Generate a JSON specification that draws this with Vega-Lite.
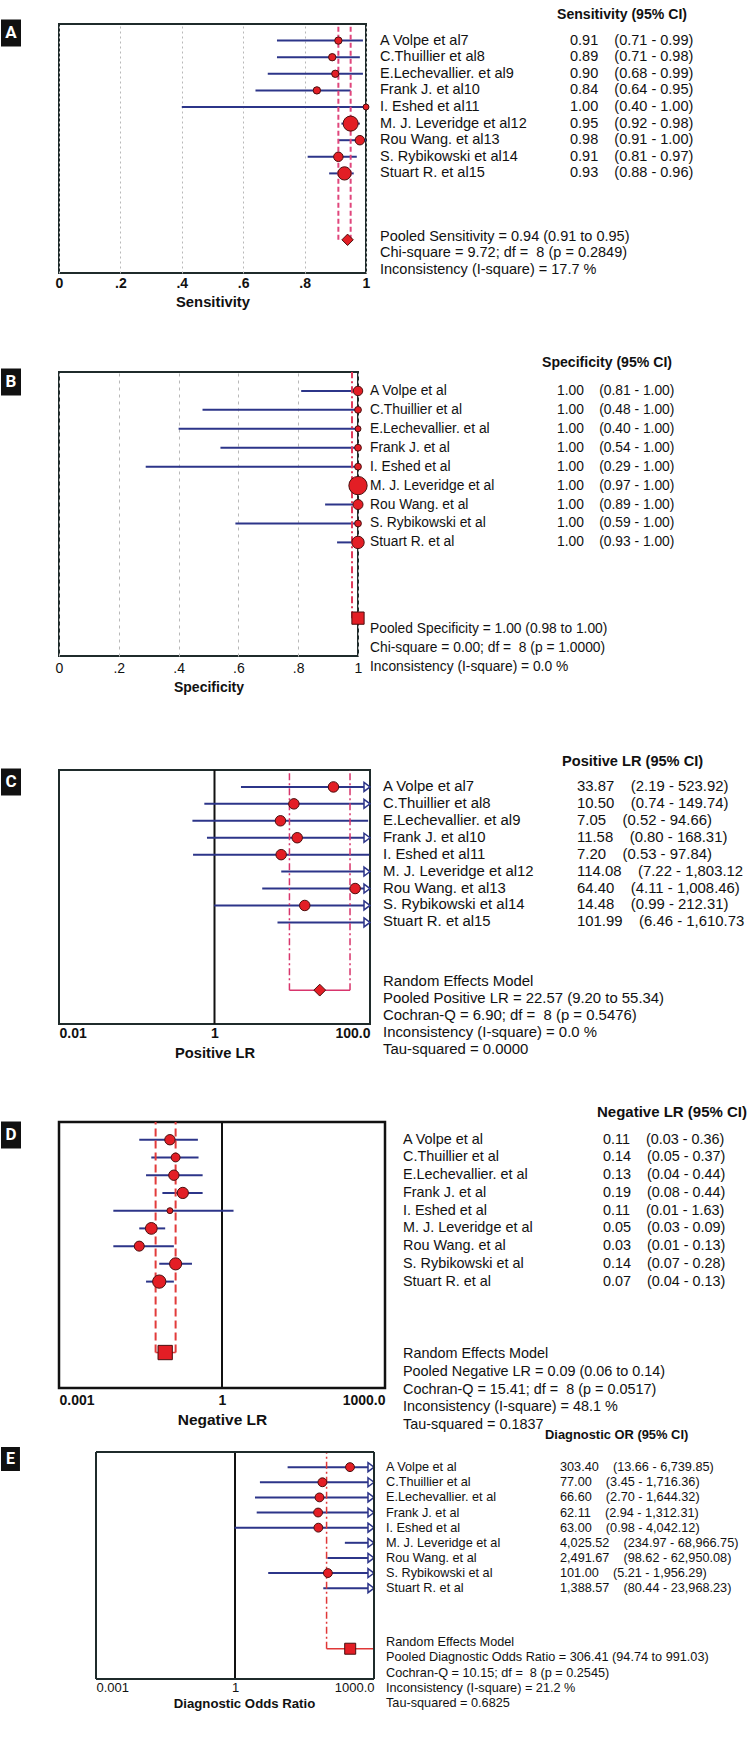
{
"$schema":"https://vega.github.io/schema/vega-lite/v6.json",
"background":"white",
"padding":{"left":1,"top":8,"right":0,"bottom":10},
"bounds":"flush",
"columns":4,
"align":"each",
"spacing":{"row":0,"column":0},
"config":{"view":{"stroke":null},"text":{"font":"Liberation Sans"}},
"datasets":{
"sens":[
{"kind":"header","row":0,"text":"Sensitivity (95% CI)"},
{"kind":"study","row":1,"name":"A Volpe et al7","est":0.91,"lo":0.71,"hi":0.99,"w":69,"stat":"0.91\u00a0\u00a0\u00a0\u00a0(0.71 - 0.99)"},
{"kind":"study","row":2,"name":"C.Thuillier et al8","est":0.89,"lo":0.71,"hi":0.98,"w":69,"stat":"0.89\u00a0\u00a0\u00a0\u00a0(0.71 - 0.98)"},
{"kind":"study","row":3,"name":"E.Lechevallier. et al9","est":0.90,"lo":0.68,"hi":0.99,"w":69,"stat":"0.90\u00a0\u00a0\u00a0\u00a0(0.68 - 0.99)"},
{"kind":"study","row":4,"name":"Frank J. et al10","est":0.84,"lo":0.64,"hi":0.95,"w":69,"stat":"0.84\u00a0\u00a0\u00a0\u00a0(0.64 - 0.95)"},
{"kind":"study","row":5,"name":"I. Eshed et al11","est":1.00,"lo":0.40,"hi":1.00,"w":45,"stat":"1.00\u00a0\u00a0\u00a0\u00a0(0.40 - 1.00)"},
{"kind":"study","row":6,"name":"M. J. Leveridge et al12","est":0.95,"lo":0.92,"hi":0.98,"w":289,"stat":"0.95\u00a0\u00a0\u00a0\u00a0(0.92 - 0.98)"},
{"kind":"study","row":7,"name":"Rou Wang. et al13","est":0.98,"lo":0.91,"hi":1.00,"w":114,"stat":"0.98\u00a0\u00a0\u00a0\u00a0(0.91 - 1.00)"},
{"kind":"study","row":8,"name":"S. Rybikowski et al14","est":0.91,"lo":0.81,"hi":0.97,"w":114,"stat":"0.91\u00a0\u00a0\u00a0\u00a0(0.81 - 0.97)"},
{"kind":"study","row":9,"name":"Stuart R. et al15","est":0.93,"lo":0.88,"hi":0.96,"w":225,"stat":"0.93\u00a0\u00a0\u00a0\u00a0(0.88 - 0.96)"},
{"kind":"pooled","row":13,"est":0.94,"lo":0.91,"hi":0.95},
{"kind":"note","row":13,"text":"Pooled Sensitivity = 0.94 (0.91 to 0.95)"},
{"kind":"note","row":14,"text":"Chi-square = 9.72; df = \u00a08 (p = 0.2849)"},
{"kind":"note","row":15,"text":"Inconsistency (I-square) = 17.7 %"}
],
"spec":[
{"kind":"header","row":0,"text":"Specificity (95% CI)"},
{"kind":"study","row":1,"name":"A Volpe et al","est":1.00,"lo":0.81,"hi":1.00,"w":114,"stat":"1.00\u00a0\u00a0\u00a0\u00a0(0.81 - 1.00)"},
{"kind":"study","row":2,"name":"C.Thuillier et al","est":1.00,"lo":0.48,"hi":1.00,"w":59,"stat":"1.00\u00a0\u00a0\u00a0\u00a0(0.48 - 1.00)"},
{"kind":"study","row":3,"name":"E.Lechevallier. et al","est":1.00,"lo":0.40,"hi":1.00,"w":45,"stat":"1.00\u00a0\u00a0\u00a0\u00a0(0.40 - 1.00)"},
{"kind":"study","row":4,"name":"Frank J. et al","est":1.00,"lo":0.54,"hi":1.00,"w":59,"stat":"1.00\u00a0\u00a0\u00a0\u00a0(0.54 - 1.00)"},
{"kind":"study","row":5,"name":"I. Eshed et al","est":1.00,"lo":0.29,"hi":1.00,"w":59,"stat":"1.00\u00a0\u00a0\u00a0\u00a0(0.29 - 1.00)"},
{"kind":"study","row":6,"name":"M. J. Leveridge et al","est":1.00,"lo":0.97,"hi":1.00,"w":428,"stat":"1.00\u00a0\u00a0\u00a0\u00a0(0.97 - 1.00)"},
{"kind":"study","row":7,"name":"Rou Wang. et al","est":1.00,"lo":0.89,"hi":1.00,"w":128,"stat":"1.00\u00a0\u00a0\u00a0\u00a0(0.89 - 1.00)"},
{"kind":"study","row":8,"name":"S. Rybikowski et al","est":1.00,"lo":0.59,"hi":1.00,"w":59,"stat":"1.00\u00a0\u00a0\u00a0\u00a0(0.59 - 1.00)"},
{"kind":"study","row":9,"name":"Stuart R. et al","est":1.00,"lo":0.93,"hi":1.00,"w":196,"stat":"1.00\u00a0\u00a0\u00a0\u00a0(0.93 - 1.00)"},
{"kind":"pooled","row":13,"est":1.00,"lo":0.98,"hi":1.00},
{"kind":"note","row":14,"text":"Pooled Specificity = 1.00 (0.98 to 1.00)"},
{"kind":"note","row":15,"text":"Chi-square = 0.00; df = \u00a08 (p = 1.0000)"},
{"kind":"note","row":16,"text":"Inconsistency (I-square) = 0.0 %"}
],
"plr":[
{"kind":"header","row":0,"text":"Positive LR (95% CI)"},
{"kind":"ref","ref":1},
{"kind":"study","row":1,"name":"A Volpe et al7","est":33.87,"lo":2.19,"hi":523.92,"w":140,"stat":"33.87\u00a0\u00a0\u00a0\u00a0(2.19 - 523.92)"},
{"kind":"study","row":2,"name":"C.Thuillier et al8","est":10.50,"lo":0.74,"hi":149.74,"w":140,"stat":"10.50\u00a0\u00a0\u00a0\u00a0(0.74 - 149.74)"},
{"kind":"study","row":3,"name":"E.Lechevallier. et al9","est":7.05,"lo":0.52,"hi":94.66,"w":140,"stat":"7.05\u00a0\u00a0\u00a0\u00a0(0.52 - 94.66)"},
{"kind":"study","row":4,"name":"Frank J. et al10","est":11.58,"lo":0.80,"hi":168.31,"w":140,"stat":"11.58\u00a0\u00a0\u00a0\u00a0(0.80 - 168.31)"},
{"kind":"study","row":5,"name":"I. Eshed et al11","est":7.20,"lo":0.53,"hi":97.84,"w":140,"stat":"7.20\u00a0\u00a0\u00a0\u00a0(0.53 - 97.84)"},
{"kind":"study","row":6,"name":"M. J. Leveridge et al12","est":114.08,"lo":7.22,"hi":1803.12,"w":140,"stat":"114.08\u00a0\u00a0\u00a0\u00a0(7.22 - 1,803.12"},
{"kind":"study","row":7,"name":"Rou Wang. et al13","est":64.40,"lo":4.11,"hi":1008.46,"w":140,"stat":"64.40\u00a0\u00a0\u00a0\u00a0(4.11 - 1,008.46)"},
{"kind":"study","row":8,"name":"S. Rybikowski et al14","est":14.48,"lo":0.99,"hi":212.31,"w":140,"stat":"14.48\u00a0\u00a0\u00a0\u00a0(0.99 - 212.31)"},
{"kind":"study","row":9,"name":"Stuart R. et al15","est":101.99,"lo":6.46,"hi":1610.73,"w":140,"stat":"101.99\u00a0\u00a0\u00a0\u00a0(6.46 - 1,610.73"},
{"kind":"pooled","row":13,"est":22.57,"lo":9.20,"hi":55.34},
{"kind":"note","row":13,"text":"Random Effects Model"},
{"kind":"note","row":14,"text":"Pooled Positive LR = 22.57 (9.20 to 55.34)"},
{"kind":"note","row":15,"text":"Cochran-Q = 6.90; df = \u00a08 (p = 0.5476)"},
{"kind":"note","row":16,"text":"Inconsistency (I-square) = 0.0 %"},
{"kind":"note","row":17,"text":"Tau-squared = 0.0000"}
],
"nlr":[
{"kind":"header","row":0,"text":"Negative LR (95% CI)"},
{"kind":"ref","ref":1},
{"kind":"study","row":1,"name":"A Volpe et al","est":0.11,"lo":0.03,"hi":0.36,"w":137,"stat":"0.11\u00a0\u00a0\u00a0\u00a0(0.03 - 0.36)"},
{"kind":"study","row":2,"name":"C.Thuillier et al","est":0.14,"lo":0.05,"hi":0.37,"w":100,"stat":"0.14\u00a0\u00a0\u00a0\u00a0(0.05 - 0.37)"},
{"kind":"study","row":3,"name":"E.Lechevallier. et al","est":0.13,"lo":0.04,"hi":0.44,"w":137,"stat":"0.13\u00a0\u00a0\u00a0\u00a0(0.04 - 0.44)"},
{"kind":"study","row":4,"name":"Frank J. et al","est":0.19,"lo":0.08,"hi":0.44,"w":161,"stat":"0.19\u00a0\u00a0\u00a0\u00a0(0.08 - 0.44)"},
{"kind":"study","row":5,"name":"I. Eshed et al","est":0.11,"lo":0.01,"hi":1.63,"w":45,"stat":"0.11\u00a0\u00a0\u00a0\u00a0(0.01 - 1.63)"},
{"kind":"study","row":6,"name":"M. J. Leveridge et al","est":0.05,"lo":0.03,"hi":0.09,"w":177,"stat":"0.05\u00a0\u00a0\u00a0\u00a0(0.03 - 0.09)"},
{"kind":"study","row":7,"name":"Rou Wang. et al","est":0.03,"lo":0.01,"hi":0.13,"w":128,"stat":"0.03\u00a0\u00a0\u00a0\u00a0(0.01 - 0.13)"},
{"kind":"study","row":8,"name":"S. Rybikowski et al","est":0.14,"lo":0.07,"hi":0.28,"w":188,"stat":"0.14\u00a0\u00a0\u00a0\u00a0(0.07 - 0.28)"},
{"kind":"study","row":9,"name":"Stuart R. et al","est":0.07,"lo":0.04,"hi":0.13,"w":225,"stat":"0.07\u00a0\u00a0\u00a0\u00a0(0.04 - 0.13)"},
{"kind":"pooled","row":13,"est":0.09,"lo":0.06,"hi":0.14},
{"kind":"note","row":13,"text":"Random Effects Model"},
{"kind":"note","row":14,"text":"Pooled Negative LR = 0.09 (0.06 to 0.14)"},
{"kind":"note","row":15,"text":"Cochran-Q = 15.41; df = \u00a08 (p = 0.0517)"},
{"kind":"note","row":16,"text":"Inconsistency (I-square) = 48.1 %"},
{"kind":"note","row":17,"text":"Tau-squared = 0.1837"}
],
"dor":[
{"kind":"header","row":0,"text":"Diagnostic OR (95% CI)"},
{"kind":"ref","ref":1},
{"kind":"edge","ref":0.001},
{"kind":"edge","ref":1000},
{"kind":"frame","row":0,"lo":0.001,"hi":1000},
{"kind":"frame","row":15,"lo":0.001,"hi":1000},
{"kind":"study","row":1,"name":"A Volpe et al","est":303.40,"lo":13.66,"hi":6739.85,"w":100,"stat":"303.40\u00a0\u00a0\u00a0\u00a0(13.66 - 6,739.85)"},
{"kind":"study","row":2,"name":"C.Thuillier et al","est":77.00,"lo":3.45,"hi":1716.36,"w":100,"stat":"77.00\u00a0\u00a0\u00a0\u00a0(3.45 - 1,716.36)"},
{"kind":"study","row":3,"name":"E.Lechevallier. et al","est":66.60,"lo":2.70,"hi":1644.32,"w":100,"stat":"66.60\u00a0\u00a0\u00a0\u00a0(2.70 - 1,644.32)"},
{"kind":"study","row":4,"name":"Frank J. et al","est":62.11,"lo":2.94,"hi":1312.31,"w":100,"stat":"62.11\u00a0\u00a0\u00a0\u00a0(2.94 - 1,312.31)"},
{"kind":"study","row":5,"name":"I. Eshed et al","est":63.00,"lo":0.98,"hi":4042.12,"w":100,"stat":"63.00\u00a0\u00a0\u00a0\u00a0(0.98 - 4,042.12)"},
{"kind":"study","row":6,"name":"M. J. Leveridge et al","est":4025.52,"lo":234.97,"hi":68966.75,"w":100,"stat":"4,025.52\u00a0\u00a0\u00a0\u00a0(234.97 - 68,966.75)"},
{"kind":"study","row":7,"name":"Rou Wang. et al","est":2491.67,"lo":98.62,"hi":62950.08,"w":100,"stat":"2,491.67\u00a0\u00a0\u00a0\u00a0(98.62 - 62,950.08)"},
{"kind":"study","row":8,"name":"S. Rybikowski et al","est":101.00,"lo":5.21,"hi":1956.29,"w":100,"stat":"101.00\u00a0\u00a0\u00a0\u00a0(5.21 - 1,956.29)"},
{"kind":"study","row":9,"name":"Stuart R. et al","est":1388.57,"lo":80.44,"hi":23968.23,"w":100,"stat":"1,388.57\u00a0\u00a0\u00a0\u00a0(80.44 - 23,968.23)"},
{"kind":"pooled","row":13,"est":306.41,"lo":94.74,"hi":991.03},
{"kind":"note","row":13,"text":"Random Effects Model"},
{"kind":"note","row":14,"text":"Pooled Diagnostic Odds Ratio = 306.41 (94.74 to 991.03)"},
{"kind":"note","row":15,"text":"Cochran-Q = 10.15; df = \u00a08 (p = 0.2545)"},
{"kind":"note","row":16,"text":"Inconsistency (I-square) = 21.2 %"},
{"kind":"note","row":17,"text":"Tau-squared = 0.6825"}
]
},
"concat":[
 {"width":58,"height":18,"data":{"values":[{"letter":"A"}]},"layer":[
  {"mark":{"type":"point","shape":"M0,-1H1.48V1H0Z","filled":true,"color":"#111111","size":729,"opacity":1,"strokeWidth":0},"encoding":{"x":{"datum":0,"type":"quantitative","scale":{"domain":[0,1]},"axis":null}}},
  {"mark":{"type":"text","font":"Roboto","fontWeight":"bold","fontSize":17,"color":"#ffffff","align":"center","baseline":"middle","dx":10},"encoding":{"x":{"datum":0,"type":"quantitative","scale":{"domain":[0,1]},"axis":null},"text":{"field":"letter"}}}]},
  {"width":307,"height":249,"view":{"stroke":"#1f2b2b","strokeWidth":2},"data":{"name":"sens"},"layer":[
   {"transform":[{"filter":"datum.kind == 'study'"}],"mark":{"type":"rule","color":"#2c3589","strokeWidth":2},
    "encoding":{"x":{"field":"lo","type":"quantitative","scale":{"type":"linear","domain":[0,1],"nice":false,"zero":false},
      "axis":{"title":"Sensitivity","values":[0,0.1,0.2,0.3,0.4,0.5,0.6,0.7,0.8,0.9,1],"labelExpr":"datum.value == 0 ? '0' : datum.value == 1 ? '1' : (round(datum.value * 10) % 2 == 0 ? replace(format(datum.value, '.1f'), '0.', '.') : '')","labelFlush":false,"labelOverlap":false,"grid":true,"gridDash":[2,3],"gridColor":"#b8b8b8","domain":false,"ticks":false,"labelFont":"Liberation Sans","labelFontSize":14,"labelFontWeight":"bold","labelColor":"#111111","labelPadding":3,"titleFont":"Liberation Sans","titleFontSize":14.8,"titleFontWeight":"bold","titleColor":"#111111","titlePadding":4}},
     "x2":{"field":"hi"},
     "y":{"field":"row","type":"quantitative","scale":{"domain":[0,15],"reverse":true,"nice":false,"zero":false},"axis":null}}},
   {"transform":[{"filter":"datum.kind == 'pooled'"}],"mark":{"type":"rule","color":"#e0467c","strokeWidth":2,"strokeDash":[5,3]},
    "encoding":{"x":{"field":"lo","type":"quantitative","scale":{"type":"linear","domain":[0,1],"nice":false,"zero":false}},"y":{"field":"row","type":"quantitative","scale":{"domain":[0,15],"reverse":true,"nice":false,"zero":false},"axis":null},"y2":{"datum":0}}},
   {"transform":[{"filter":"datum.kind == 'pooled'"}],"mark":{"type":"rule","color":"#e0467c","strokeWidth":2,"strokeDash":[5,3]},
    "encoding":{"x":{"field":"hi","type":"quantitative","scale":{"type":"linear","domain":[0,1],"nice":false,"zero":false}},"y":{"field":"row","type":"quantitative","scale":{"domain":[0,15],"reverse":true,"nice":false,"zero":false},"axis":null},"y2":{"datum":0}}},
   {"transform":[{"filter":"datum.kind == 'study'"}],"mark":{"type":"point","shape":"circle","filled":true,"color":"#e31e25","stroke":"#4a0f0f","strokeWidth":1,"opacity":1},
    "encoding":{"x":{"field":"est","type":"quantitative","scale":{"type":"linear","domain":[0,1],"nice":false,"zero":false}},"y":{"field":"row","type":"quantitative","scale":{"domain":[0,15],"reverse":true,"nice":false,"zero":false},"axis":null},
     "size":{"field":"w","type":"quantitative","scale":{"type":"linear","domain":[0,100],"range":[0,78.5]},"legend":null}}},
   {"transform":[{"filter":"datum.kind == 'pooled'"}],"mark":{"type":"point","shape":"diamond","filled":true,"color":"#e31e25","stroke":"#4a0f0f","strokeWidth":1,"opacity":1,"size":130},
    "encoding":{"x":{"field":"est","type":"quantitative","scale":{"type":"linear","domain":[0,1],"nice":false,"zero":false}},"y":{"field":"row","type":"quantitative","scale":{"domain":[0,15],"reverse":true,"nice":false,"zero":false},"axis":null}}}
  ]},
  {"width":172,"height":348,"data":{"name":"sens"},"layer":[
   {"transform":[{"filter":"datum.kind == 'study'"}],"mark":{"type":"text","align":"left","baseline":"middle","fontSize":14.5,"color":"#111111","dx":-5},
    "encoding":{"x":{"datum":0,"type":"quantitative","scale":{"domain":[0,1]},"axis":null},"y":{"field":"row","type":"quantitative","scale":{"domain":[0,20.964],"reverse":true,"nice":false,"zero":false},"axis":null},"text":{"field":"name"}}},
   {"transform":[{"filter":"datum.kind == 'note'"}],"mark":{"type":"text","align":"left","baseline":"middle","fontSize":14.5,"color":"#111111","dx":-5,"dy":-3},
    "encoding":{"x":{"datum":0,"type":"quantitative","scale":{"domain":[0,1]},"axis":null},"y":{"field":"row","type":"quantitative","scale":{"domain":[0,20.964],"reverse":true,"nice":false,"zero":false},"axis":null},"text":{"field":"text"}}}
  ]},
  {"width":190,"height":249,"data":{"name":"sens"},"layer":[
   {"transform":[{"filter":"datum.kind == 'study'"}],"mark":{"type":"text","align":"left","baseline":"middle","fontSize":14.5,"color":"#111111","dx":13},
    "encoding":{"x":{"datum":0,"type":"quantitative","scale":{"domain":[0,1]},"axis":null},"y":{"field":"row","type":"quantitative","scale":{"domain":[0,15],"reverse":true,"nice":false,"zero":false},"axis":null},"text":{"field":"stat"}}},
   {"transform":[{"filter":"datum.kind == 'header'"}],"mark":{"type":"text","align":"left","baseline":"middle","fontSize":14.1,"fontWeight":"bold","color":"#111111","dx":0,"dy":-9},
    "encoding":{"x":{"datum":0,"type":"quantitative","scale":{"domain":[0,1]},"axis":null},"y":{"field":"row","type":"quantitative","scale":{"domain":[0,15],"reverse":true,"nice":false,"zero":false},"axis":null},"text":{"field":"text"}}}
  ]},

 {"width":58,"height":20,"data":{"values":[{"letter":"B"}]},"layer":[
  {"mark":{"type":"point","shape":"M0,-1H1.48V1H0Z","filled":true,"color":"#111111","size":729,"opacity":1,"strokeWidth":0},"encoding":{"x":{"datum":0,"type":"quantitative","scale":{"domain":[0,1]},"axis":null}}},
  {"mark":{"type":"text","font":"Roboto","fontWeight":"bold","fontSize":17,"color":"#ffffff","align":"center","baseline":"middle","dx":10},"encoding":{"x":{"datum":0,"type":"quantitative","scale":{"domain":[0,1]},"axis":null},"text":{"field":"letter"}}}]},
  {"width":299,"height":284,"view":{"stroke":"#1f2b2b","strokeWidth":2},"data":{"name":"spec"},"layer":[
   {"transform":[{"filter":"datum.kind == 'study'"}],"mark":{"type":"rule","color":"#2c3589","strokeWidth":2},
    "encoding":{"x":{"field":"lo","type":"quantitative","scale":{"type":"linear","domain":[0,1],"nice":false,"zero":false},
      "axis":{"title":"Specificity","values":[0,0.1,0.2,0.3,0.4,0.5,0.6,0.7,0.8,0.9,1],"labelExpr":"datum.value == 0 ? '0' : datum.value == 1 ? '1' : (round(datum.value * 10) % 2 == 0 ? replace(format(datum.value, '.1f'), '0.', '.') : '')","labelFlush":false,"labelOverlap":false,"grid":true,"gridDash":[3,4],"gridColor":"#b8b8b8","domain":false,"ticks":false,"labelFont":"Liberation Sans","labelFontSize":14,"labelColor":"#111111","labelPadding":5,"titleFont":"Liberation Sans","titleFontSize":14,"titleFontWeight":"bold","titleColor":"#111111","titlePadding":5}},
     "x2":{"field":"hi"},
     "y":{"field":"row","type":"quantitative","scale":{"domain":[0,15],"reverse":true,"nice":false,"zero":false},"axis":null}}},
   {"transform":[{"filter":"datum.kind == 'pooled'"}],"mark":{"type":"rule","color":"#e03a5a","strokeWidth":2,"strokeDash":[7,3,2,3]},
    "encoding":{"x":{"field":"lo","type":"quantitative","scale":{"type":"linear","domain":[0,1],"nice":false,"zero":false}},"y":{"field":"row","type":"quantitative","scale":{"domain":[0,15],"reverse":true,"nice":false,"zero":false},"axis":null},"y2":{"datum":0}}},
   {"transform":[{"filter":"datum.kind == 'study'"}],"mark":{"type":"point","shape":"circle","filled":true,"color":"#e31e25","stroke":"#4a0f0f","strokeWidth":1,"opacity":1},
    "encoding":{"x":{"field":"est","type":"quantitative","scale":{"type":"linear","domain":[0,1],"nice":false,"zero":false}},"y":{"field":"row","type":"quantitative","scale":{"domain":[0,15],"reverse":true,"nice":false,"zero":false},"axis":null},
     "size":{"field":"w","type":"quantitative","scale":{"type":"linear","domain":[0,100],"range":[0,78.5]},"legend":null}}},
   {"transform":[{"filter":"datum.kind == 'pooled'"}],"mark":{"type":"point","shape":"square","filled":true,"color":"#e31e25","stroke":"#4a0f0f","strokeWidth":1,"opacity":1,"size":150},
    "encoding":{"x":{"field":"est","type":"quantitative","scale":{"type":"linear","domain":[0,1],"nice":false,"zero":false}},"y":{"field":"row","type":"quantitative","scale":{"domain":[0,15],"reverse":true,"nice":false,"zero":false},"axis":null}}}
  ]},
  {"width":172,"height":398,"data":{"name":"spec"},"layer":[
   {"transform":[{"filter":"datum.kind == 'study'"}],"mark":{"type":"text","align":"left","baseline":"middle","fontSize":13.8,"color":"#111111","dx":-15},
    "encoding":{"x":{"datum":0,"type":"quantitative","scale":{"domain":[0,1]},"axis":null},"y":{"field":"row","type":"quantitative","scale":{"domain":[0,21.021],"reverse":true,"nice":false,"zero":false},"axis":null},"text":{"field":"name"}}},
   {"transform":[{"filter":"datum.kind == 'note'"}],"mark":{"type":"text","align":"left","baseline":"middle","fontSize":13.8,"color":"#111111","dx":-15,"dy":-8},
    "encoding":{"x":{"datum":0,"type":"quantitative","scale":{"domain":[0,1]},"axis":null},"y":{"field":"row","type":"quantitative","scale":{"domain":[0,21.021],"reverse":true,"nice":false,"zero":false},"axis":null},"text":{"field":"text"}}}
  ]},
  {"width":190,"height":284,"data":{"name":"spec"},"layer":[
   {"transform":[{"filter":"datum.kind == 'study'"}],"mark":{"type":"text","align":"left","baseline":"middle","fontSize":13.8,"color":"#111111","dx":0},
    "encoding":{"x":{"datum":0,"type":"quantitative","scale":{"domain":[0,1]},"axis":null},"y":{"field":"row","type":"quantitative","scale":{"domain":[0,15],"reverse":true,"nice":false,"zero":false},"axis":null},"text":{"field":"stat"}}},
   {"transform":[{"filter":"datum.kind == 'header'"}],"mark":{"type":"text","align":"left","baseline":"middle","fontSize":14.1,"fontWeight":"bold","color":"#111111","dx":-15,"dy":-9},
    "encoding":{"x":{"datum":0,"type":"quantitative","scale":{"domain":[0,1]},"axis":null},"y":{"field":"row","type":"quantitative","scale":{"domain":[0,15],"reverse":true,"nice":false,"zero":false},"axis":null},"text":{"field":"text"}}}
  ]},

 {"width":58,"height":24,"data":{"values":[{"letter":"C"}]},"layer":[
  {"mark":{"type":"point","shape":"M0,-1H1.48V1H0Z","filled":true,"color":"#111111","size":729,"opacity":1,"strokeWidth":0},"encoding":{"x":{"datum":0,"type":"quantitative","scale":{"domain":[0,1]},"axis":null}}},
  {"mark":{"type":"text","font":"Roboto","fontWeight":"bold","fontSize":17,"color":"#ffffff","align":"center","baseline":"middle","dx":10},"encoding":{"x":{"datum":0,"type":"quantitative","scale":{"domain":[0,1]},"axis":null},"text":{"field":"letter"}}}]},
  {"width":311,"height":254,"view":{"stroke":"#1f2b2b","strokeWidth":2},"data":{"name":"plr"},"layer":[
   {"transform":[{"filter":"datum.kind == 'ref'"}],"mark":{"type":"rule","color":"#111111","strokeWidth":2},
    "encoding":{"x":{"field":"ref","type":"quantitative","scale":{"type":"log","domain":[0.01,100],"nice":false,"clamp":true},
      "axis":{"title":"Positive LR","values":[0.01,1,100],"labelExpr":"datum.value >= 100 ? format(datum.value, '.1f') : datum.value < 1 ? format(datum.value, '~g') : '1'","labelFlush":true,"labelOverlap":false,"grid":false,"domain":false,"ticks":false,"labelFont":"Liberation Sans","labelFontSize":14,"labelFontWeight":"bold","labelColor":"#111111","labelPadding":2,"titleFont":"Liberation Sans","titleFontSize":14.7,"titleFontWeight":"bold","titleColor":"#111111","titlePadding":5}}}},
   {"transform":[{"filter":"datum.kind == 'study'"}],"mark":{"type":"rule","color":"#2c3589","strokeWidth":2},
    "encoding":{"x":{"field":"lo","type":"quantitative","scale":{"type":"log","domain":[0.01,100],"nice":false,"clamp":true}},"x2":{"field":"hi"},
     "y":{"field":"row","type":"quantitative","scale":{"domain":[0,15],"reverse":true,"nice":false,"zero":false},"axis":null}}},
   {"transform":[{"filter":"datum.kind == 'pooled'"}],"mark":{"type":"rule","color":"#d8356c","strokeWidth":1.5,"strokeDash":[7,3,2,3]},
    "encoding":{"x":{"field":"lo","type":"quantitative","scale":{"type":"log","domain":[0.01,100],"nice":false,"clamp":true}},"y":{"field":"row","type":"quantitative","scale":{"domain":[0,15],"reverse":true,"nice":false,"zero":false},"axis":null},"y2":{"datum":0}}},
   {"transform":[{"filter":"datum.kind == 'pooled'"}],"mark":{"type":"rule","color":"#d8356c","strokeWidth":1.5,"strokeDash":[7,3,2,3]},
    "encoding":{"x":{"field":"hi","type":"quantitative","scale":{"type":"log","domain":[0.01,100],"nice":false,"clamp":true}},"y":{"field":"row","type":"quantitative","scale":{"domain":[0,15],"reverse":true,"nice":false,"zero":false},"axis":null},"y2":{"datum":0}}},
   {"transform":[{"filter":"datum.kind == 'pooled'"}],"mark":{"type":"rule","color":"#d8356c","strokeWidth":1.5},
    "encoding":{"x":{"field":"lo","type":"quantitative","scale":{"type":"log","domain":[0.01,100],"nice":false,"clamp":true}},"x2":{"field":"hi"},"y":{"field":"row","type":"quantitative","scale":{"domain":[0,15],"reverse":true,"nice":false,"zero":false},"axis":null}}},
   {"transform":[{"filter":"datum.kind == 'study' && datum.hi > 100"}],"mark":{"type":"point","shape":"M-1.2,-0.9L0,0L-1.2,0.9Z","filled":false,"fill":"#ffffff","stroke":"#2c3589","strokeWidth":1.5,"opacity":1,"size":100},
    "encoding":{"x":{"field":"hi","type":"quantitative","scale":{"type":"log","domain":[0.01,100],"nice":false,"clamp":true}},"y":{"field":"row","type":"quantitative","scale":{"domain":[0,15],"reverse":true,"nice":false,"zero":false},"axis":null}}},
   {"transform":[{"filter":"datum.kind == 'study' && datum.est <= 100"}],"mark":{"type":"point","shape":"circle","filled":true,"color":"#e31e25","stroke":"#4a0f0f","strokeWidth":1,"opacity":1},
    "encoding":{"x":{"field":"est","type":"quantitative","scale":{"type":"log","domain":[0.01,100],"nice":false,"clamp":true}},"y":{"field":"row","type":"quantitative","scale":{"domain":[0,15],"reverse":true,"nice":false,"zero":false},"axis":null},
     "size":{"field":"w","type":"quantitative","scale":{"type":"linear","domain":[0,100],"range":[0,78.5]},"legend":null}}},
   {"transform":[{"filter":"datum.kind == 'pooled'"}],"mark":{"type":"point","shape":"diamond","filled":true,"color":"#e31e25","stroke":"#4a0f0f","strokeWidth":1,"opacity":1,"size":140},
    "encoding":{"x":{"field":"est","type":"quantitative","scale":{"type":"log","domain":[0.01,100],"nice":false,"clamp":true}},"y":{"field":"row","type":"quantitative","scale":{"domain":[0,15],"reverse":true,"nice":false,"zero":false},"axis":null}}}
  ]},
  {"width":172,"height":352,"data":{"name":"plr"},"layer":[
   {"transform":[{"filter":"datum.kind == 'study'"}],"mark":{"type":"text","align":"left","baseline":"middle","fontSize":14.9,"color":"#111111","dx":-2},
    "encoding":{"x":{"datum":0,"type":"quantitative","scale":{"domain":[0,1]},"axis":null},"y":{"field":"row","type":"quantitative","scale":{"domain":[0,20.787],"reverse":true,"nice":false,"zero":false},"axis":null},"text":{"field":"name"}}},
   {"transform":[{"filter":"datum.kind == 'note'"}],"mark":{"type":"text","align":"left","baseline":"middle","fontSize":14.9,"color":"#111111","dx":-2,"dy":-8},
    "encoding":{"x":{"datum":0,"type":"quantitative","scale":{"domain":[0,1]},"axis":null},"y":{"field":"row","type":"quantitative","scale":{"domain":[0,20.787],"reverse":true,"nice":false,"zero":false},"axis":null},"text":{"field":"text"}}}
  ]},
  {"width":190,"height":254,"data":{"name":"plr"},"layer":[
   {"transform":[{"filter":"datum.kind == 'study'"}],"mark":{"type":"text","align":"left","baseline":"middle","fontSize":14.9,"color":"#111111","dx":20},
    "encoding":{"x":{"datum":0,"type":"quantitative","scale":{"domain":[0,1]},"axis":null},"y":{"field":"row","type":"quantitative","scale":{"domain":[0,15],"reverse":true,"nice":false,"zero":false},"axis":null},"text":{"field":"stat"}}},
   {"transform":[{"filter":"datum.kind == 'header'"}],"mark":{"type":"text","align":"left","baseline":"middle","fontSize":14.6,"fontWeight":"bold","color":"#111111","dx":5,"dy":-8},
    "encoding":{"x":{"datum":0,"type":"quantitative","scale":{"domain":[0,1]},"axis":null},"y":{"field":"row","type":"quantitative","scale":{"domain":[0,15],"reverse":true,"nice":false,"zero":false},"axis":null},"text":{"field":"text"}}}
  ]},

 {"width":58,"height":26,"data":{"values":[{"letter":"D"}]},"layer":[
  {"mark":{"type":"point","shape":"M0,-1H1.48V1H0Z","filled":true,"color":"#111111","size":729,"opacity":1,"strokeWidth":0},"encoding":{"x":{"datum":0,"type":"quantitative","scale":{"domain":[0,1]},"axis":null}}},
  {"mark":{"type":"text","font":"Roboto","fontWeight":"bold","fontSize":17,"color":"#ffffff","align":"center","baseline":"middle","dx":10},"encoding":{"x":{"datum":0,"type":"quantitative","scale":{"domain":[0,1]},"axis":null},"text":{"field":"letter"}}}]},
  {"width":326,"height":266,"view":{"stroke":"#111111","strokeWidth":2.5},"data":{"name":"nlr"},"layer":[
   {"transform":[{"filter":"datum.kind == 'ref'"}],"mark":{"type":"rule","color":"#111111","strokeWidth":2},
    "encoding":{"x":{"field":"ref","type":"quantitative","scale":{"type":"log","domain":[0.001,1000],"nice":false},
      "axis":{"title":"Negative LR","values":[0.001,1,1000],"labelExpr":"datum.value >= 100 ? format(datum.value, '.1f') : datum.value < 1 ? format(datum.value, '~g') : '1'","labelFlush":true,"labelOverlap":false,"grid":false,"domain":false,"ticks":false,"labelFont":"Liberation Sans","labelFontSize":14,"labelFontWeight":"bold","labelColor":"#111111","labelPadding":5,"titleFont":"Liberation Sans","titleFontSize":15.5,"titleFontWeight":"bold","titleColor":"#111111","titlePadding":5}}}},
   {"transform":[{"filter":"datum.kind == 'study'"}],"mark":{"type":"rule","color":"#2c3589","strokeWidth":2},
    "encoding":{"x":{"field":"lo","type":"quantitative","scale":{"type":"log","domain":[0.001,1000],"nice":false}},"x2":{"field":"hi"},
     "y":{"field":"row","type":"quantitative","scale":{"domain":[0,15],"reverse":true,"nice":false,"zero":false},"axis":null}}},
   {"transform":[{"filter":"datum.kind == 'pooled'"}],"mark":{"type":"rule","color":"#e23b3b","strokeWidth":2,"strokeDash":[8,4]},
    "encoding":{"x":{"field":"lo","type":"quantitative","scale":{"type":"log","domain":[0.001,1000],"nice":false}},"y":{"field":"row","type":"quantitative","scale":{"domain":[0,15],"reverse":true,"nice":false,"zero":false},"axis":null},"y2":{"datum":0}}},
   {"transform":[{"filter":"datum.kind == 'pooled'"}],"mark":{"type":"rule","color":"#e23b3b","strokeWidth":2,"strokeDash":[8,4]},
    "encoding":{"x":{"field":"hi","type":"quantitative","scale":{"type":"log","domain":[0.001,1000],"nice":false}},"y":{"field":"row","type":"quantitative","scale":{"domain":[0,15],"reverse":true,"nice":false,"zero":false},"axis":null},"y2":{"datum":0}}},
   {"transform":[{"filter":"datum.kind == 'pooled'"}],"mark":{"type":"rule","color":"#e23b3b","strokeWidth":1.5},
    "encoding":{"x":{"field":"lo","type":"quantitative","scale":{"type":"log","domain":[0.001,1000],"nice":false}},"x2":{"field":"hi"},"y":{"field":"row","type":"quantitative","scale":{"domain":[0,15],"reverse":true,"nice":false,"zero":false},"axis":null}}},
   {"transform":[{"filter":"datum.kind == 'study'"}],"mark":{"type":"point","shape":"circle","filled":true,"color":"#e31e25","stroke":"#4a0f0f","strokeWidth":1,"opacity":1},
    "encoding":{"x":{"field":"est","type":"quantitative","scale":{"type":"log","domain":[0.001,1000],"nice":false}},"y":{"field":"row","type":"quantitative","scale":{"domain":[0,15],"reverse":true,"nice":false,"zero":false},"axis":null},
     "size":{"field":"w","type":"quantitative","scale":{"type":"linear","domain":[0,100],"range":[0,78.5]},"legend":null}}},
   {"transform":[{"filter":"datum.kind == 'pooled'"}],"mark":{"type":"point","shape":"square","filled":true,"color":"#e31e25","stroke":"#4a0f0f","strokeWidth":1,"opacity":1,"size":205},
    "encoding":{"x":{"field":"est","type":"quantitative","scale":{"type":"log","domain":[0.001,1000],"nice":false}},"y":{"field":"row","type":"quantitative","scale":{"domain":[0,15],"reverse":true,"nice":false,"zero":false},"axis":null}}}
  ]},
  {"width":172,"height":330,"data":{"name":"nlr"},"layer":[
   {"transform":[{"filter":"datum.kind == 'study'"}],"mark":{"type":"text","align":"left","baseline":"middle","fontSize":14.4,"color":"#111111","dx":18},
    "encoding":{"x":{"datum":0,"type":"quantitative","scale":{"domain":[0,1]},"axis":null},"y":{"field":"row","type":"quantitative","scale":{"domain":[0,18.609],"reverse":true,"nice":false,"zero":false},"axis":null},"text":{"field":"name"}}},
   {"transform":[{"filter":"datum.kind == 'note'"}],"mark":{"type":"text","align":"left","baseline":"middle","fontSize":14.4,"color":"#111111","dx":18,"dy":1.5},
    "encoding":{"x":{"datum":0,"type":"quantitative","scale":{"domain":[0,1]},"axis":null},"y":{"field":"row","type":"quantitative","scale":{"domain":[0,18.609],"reverse":true,"nice":false,"zero":false},"axis":null},"text":{"field":"text"}}}
  ]},
  {"width":190,"height":266,"data":{"name":"nlr"},"layer":[
   {"transform":[{"filter":"datum.kind == 'study'"}],"mark":{"type":"text","align":"left","baseline":"middle","fontSize":14.4,"color":"#111111","dx":46},
    "encoding":{"x":{"datum":0,"type":"quantitative","scale":{"domain":[0,1]},"axis":null},"y":{"field":"row","type":"quantitative","scale":{"domain":[0,15],"reverse":true,"nice":false,"zero":false},"axis":null},"text":{"field":"stat"}}},
   {"transform":[{"filter":"datum.kind == 'header'"}],"mark":{"type":"text","align":"left","baseline":"middle","fontSize":15,"fontWeight":"bold","color":"#111111","dx":40,"dy":-10},
    "encoding":{"x":{"datum":0,"type":"quantitative","scale":{"domain":[0,1]},"axis":null},"y":{"field":"row","type":"quantitative","scale":{"domain":[0,15],"reverse":true,"nice":false,"zero":false},"axis":null},"text":{"field":"text"}}}
  ]},

 {"width":58,"height":14,"data":{"values":[{"letter":"E"}]},"layer":[
  {"mark":{"type":"point","shape":"M0,-1H1.58V1H0Z","filled":true,"color":"#111111","size":576,"opacity":1,"strokeWidth":0},"encoding":{"x":{"datum":0,"type":"quantitative","scale":{"domain":[0,1]},"axis":null}}},
  {"mark":{"type":"text","font":"Roboto","fontWeight":"bold","fontSize":16,"color":"#ffffff","align":"center","baseline":"middle","dx":9.5},"encoding":{"x":{"datum":0,"type":"quantitative","scale":{"domain":[0,1]},"axis":null},"text":{"field":"letter"}}}]},
  {"width":315,"height":227,"data":{"name":"dor"},"layer":[
   {"transform":[{"filter":"datum.kind == 'ref'"}],"mark":{"type":"rule","color":"#111111","strokeWidth":2},
    "encoding":{"x":{"field":"ref","type":"quantitative","scale":{"type":"log","domain":[0.000159,1000],"nice":false,"clamp":true},
      "axis":{"title":"Diagnostic Odds Ratio","titleX":185,"values":[0.001,1,1000],"labelExpr":"datum.value >= 100 ? format(datum.value, '.1f') : datum.value < 1 ? format(datum.value, '~g') : '1'","labelFlush":false,"labelAlign":{"condition":[{"test":"datum.value < 0.01","value":"left"},{"test":"datum.value > 100","value":"right"}],"value":"center"},"labelOverlap":false,"grid":false,"domain":false,"ticks":false,"labelFont":"Liberation Sans","labelFontSize":13,"labelColor":"#111111","labelPadding":2,"titleFont":"Liberation Sans","titleFontSize":13.2,"titleFontWeight":"bold","titleColor":"#111111","titlePadding":3}}}},
   {"transform":[{"filter":"datum.kind == 'study'"}],"mark":{"type":"rule","color":"#2c3589","strokeWidth":2},
    "encoding":{"x":{"field":"lo","type":"quantitative","scale":{"type":"log","domain":[0.000159,1000],"nice":false,"clamp":true}},"x2":{"field":"hi"},
     "y":{"field":"row","type":"quantitative","scale":{"domain":[0,15],"reverse":true,"nice":false,"zero":false},"axis":null}}},
   {"transform":[{"filter":"datum.kind == 'pooled'"}],"mark":{"type":"rule","color":"#e03838","strokeWidth":1.5,"strokeDash":[7,3,2,3]},
    "encoding":{"x":{"field":"lo","type":"quantitative","scale":{"type":"log","domain":[0.000159,1000],"nice":false,"clamp":true}},"y":{"field":"row","type":"quantitative","scale":{"domain":[0,15],"reverse":true,"nice":false,"zero":false},"axis":null},"y2":{"datum":0}}},
   {"transform":[{"filter":"datum.kind == 'pooled'"}],"mark":{"type":"rule","color":"#e03838","strokeWidth":1.5,"strokeDash":[7,3,2,3]},
    "encoding":{"x":{"field":"hi","type":"quantitative","scale":{"type":"log","domain":[0.000159,1000],"nice":false,"clamp":true}},"y":{"field":"row","type":"quantitative","scale":{"domain":[0,15],"reverse":true,"nice":false,"zero":false},"axis":null},"y2":{"datum":0}}},
   {"transform":[{"filter":"datum.kind == 'pooled'"}],"mark":{"type":"rule","color":"#e03838","strokeWidth":1.5},
    "encoding":{"x":{"field":"lo","type":"quantitative","scale":{"type":"log","domain":[0.000159,1000],"nice":false,"clamp":true}},"x2":{"field":"hi"},"y":{"field":"row","type":"quantitative","scale":{"domain":[0,15],"reverse":true,"nice":false,"zero":false},"axis":null}}},
   {"transform":[{"filter":"datum.kind == 'study' && datum.hi > 1000"}],"mark":{"type":"point","shape":"M-1.2,-0.9L0,0L-1.2,0.9Z","filled":false,"fill":"#ffffff","stroke":"#2c3589","strokeWidth":1.5,"opacity":1,"size":100},
    "encoding":{"x":{"field":"hi","type":"quantitative","scale":{"type":"log","domain":[0.000159,1000],"nice":false,"clamp":true}},"y":{"field":"row","type":"quantitative","scale":{"domain":[0,15],"reverse":true,"nice":false,"zero":false},"axis":null}}},
   {"transform":[{"filter":"datum.kind == 'study' && datum.est <= 1000"}],"mark":{"type":"point","shape":"circle","filled":true,"color":"#e31e25","stroke":"#4a0f0f","strokeWidth":1,"opacity":1},
    "encoding":{"x":{"field":"est","type":"quantitative","scale":{"type":"log","domain":[0.000159,1000],"nice":false,"clamp":true}},"y":{"field":"row","type":"quantitative","scale":{"domain":[0,15],"reverse":true,"nice":false,"zero":false},"axis":null},
     "size":{"field":"w","type":"quantitative","scale":{"type":"linear","domain":[0,100],"range":[0,78.5]},"legend":null}}},
   {"transform":[{"filter":"datum.kind == 'pooled'"}],"mark":{"type":"point","shape":"square","filled":true,"color":"#e31e25","stroke":"#4a0f0f","strokeWidth":1,"opacity":1,"size":121},
    "encoding":{"x":{"field":"est","type":"quantitative","scale":{"type":"log","domain":[0.000159,1000],"nice":false,"clamp":true}},"y":{"field":"row","type":"quantitative","scale":{"domain":[0,15],"reverse":true,"nice":false,"zero":false},"axis":null}}},
   {"transform":[{"filter":"datum.kind == 'edge'"}],"mark":{"type":"rule","color":"#1f2b2b","strokeWidth":2},
    "encoding":{"x":{"field":"ref","type":"quantitative","scale":{"type":"log","domain":[0.000159,1000],"nice":false,"clamp":true}}}},
   {"transform":[{"filter":"datum.kind == 'frame'"}],"mark":{"type":"rule","color":"#1f2b2b","strokeWidth":2},
    "encoding":{"x":{"field":"lo","type":"quantitative","scale":{"type":"log","domain":[0.000159,1000],"nice":false,"clamp":true}},"x2":{"field":"hi"},"y":{"field":"row","type":"quantitative","scale":{"domain":[0,15],"reverse":true,"nice":false,"zero":false},"axis":null}}}
  ]},
  {"width":172,"height":240,"data":{"name":"dor"},"layer":[
   {"transform":[{"filter":"datum.kind == 'study'"}],"mark":{"type":"text","align":"left","baseline":"middle","fontSize":12.7,"color":"#111111","dx":1},
    "encoding":{"x":{"datum":0,"type":"quantitative","scale":{"domain":[0,1]},"axis":null},"y":{"field":"row","type":"quantitative","scale":{"domain":[0,15.859],"reverse":true,"nice":false,"zero":false},"axis":null},"text":{"field":"name"}}},
   {"transform":[{"filter":"datum.kind == 'note'"}],"mark":{"type":"text","align":"left","baseline":"middle","fontSize":12.7,"color":"#111111","dx":1,"dy":-6.5},
    "encoding":{"x":{"datum":0,"type":"quantitative","scale":{"domain":[0,1]},"axis":null},"y":{"field":"row","type":"quantitative","scale":{"domain":[0,15.859],"reverse":true,"nice":false,"zero":false},"axis":null},"text":{"field":"text"}}}
  ]},
  {"width":190,"height":227,"data":{"name":"dor"},"layer":[
   {"transform":[{"filter":"datum.kind == 'study'"}],"mark":{"type":"text","align":"left","baseline":"middle","fontSize":12.7,"color":"#111111","dx":3},
    "encoding":{"x":{"datum":0,"type":"quantitative","scale":{"domain":[0,1]},"axis":null},"y":{"field":"row","type":"quantitative","scale":{"domain":[0,15],"reverse":true,"nice":false,"zero":false},"axis":null},"text":{"field":"stat"}}},
   {"transform":[{"filter":"datum.kind == 'header'"}],"mark":{"type":"text","align":"left","baseline":"middle","fontSize":12.9,"fontWeight":"bold","color":"#111111","dx":-12,"dy":-17},
    "encoding":{"x":{"datum":0,"type":"quantitative","scale":{"domain":[0,1]},"axis":null},"y":{"field":"row","type":"quantitative","scale":{"domain":[0,15],"reverse":true,"nice":false,"zero":false},"axis":null},"text":{"field":"text"}}}
  ]}
]
}
